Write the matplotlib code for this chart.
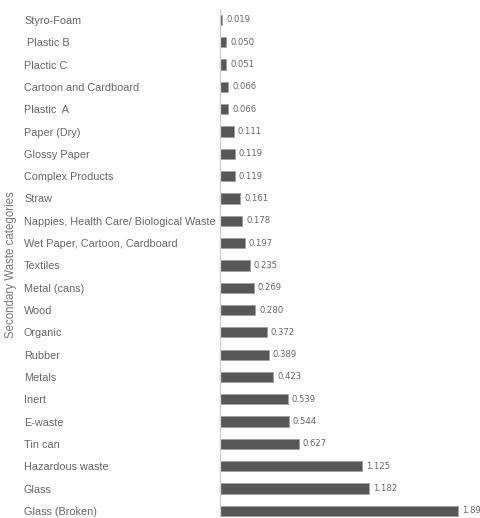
import matplotlib
matplotlib.use("Agg")
import matplotlib.pyplot as plt

categories = [
    "Styro-Foam", " Plastic B", "Plactic C", "Cartoon and Cardboard", "Plastic  A",
    "Paper (Dry)", "Glossy Paper", "Complex Products", "Straw",
    "Nappies, Health Care/ Biological Waste", "Wet Paper, Cartoon, Cardboard",
    "Textiles", "Metal (cans)", "Wood", "Organic", "Rubber", "Metals", "Inert",
    "E-waste", "Tin can", "Hazardous waste", "Glass", "Glass (Broken)",
]
values = [0.019, 0.050, 0.051, 0.066, 0.066, 0.111, 0.119, 0.119, 0.161, 0.178,
          0.197, 0.235, 0.269, 0.280, 0.372, 0.389, 0.423, 0.539, 0.544, 0.627,
          1.125, 1.182, 1.89]
value_labels = ["0.019", "0.050", "0.051", "0.066", "0.066", "0.111", "0.119", "0.119",
                "0.161", "0.178", "0.197", "0.235", "0.269", "0.280", "0.372", "0.389",
                "0.423", "0.539", "0.544", "0.627", "1.125", "1.182", "1.89"]
y_label = "Secondary Waste categories"

W, H = 480, 518
fig = plt.figure(figsize=(W / 100, H / 100), dpi=100)
left_px, right_px = 220, 480
top_px, bot_px = 8.8, 522
ax = fig.add_axes([left_px / W, 1 - bot_px / H, (right_px - left_px) / W, (bot_px - top_px) / H])

n = len(categories)
ypos = list(range(n))
ax.barh(ypos, values, height=0.46, color="#575757", edgecolor="#a0a0a0", linewidth=0.6)
ax.set_ylim(n - 0.5, -0.5)
ax.set_xlim(0, (right_px - left_px) / 126.0)

for y, v, lab in zip(ypos, values, value_labels):
    ax.annotate(lab, (v, y), xytext=(2.8, 0), textcoords="offset points",
                va="center", ha="left", fontsize=6.1, color="#666666",
                family="DejaVu Sans")

ax.set_yticks(ypos)
ax.set_yticklabels(categories, ha="left", family="Liberation Sans", fontsize=7.8, color="#666666")
ax.tick_params(axis="y", length=0, pad=(left_px - 24) * 72 / 100)
ax.tick_params(axis="x", bottom=False, labelbottom=False)
for s in ["top", "right", "bottom"]:
    ax.spines[s].set_visible(False)
ax.spines["left"].set_color("#d0d0d0")
ax.spines["left"].set_linewidth(1.0)

fig.text(11 / W, 1 - 265 / H, y_label, rotation=90, ha="center", va="center",
         family="Liberation Sans", fontsize=8.3, color="#777777")

fig.savefig("out.png", dpi=100)
